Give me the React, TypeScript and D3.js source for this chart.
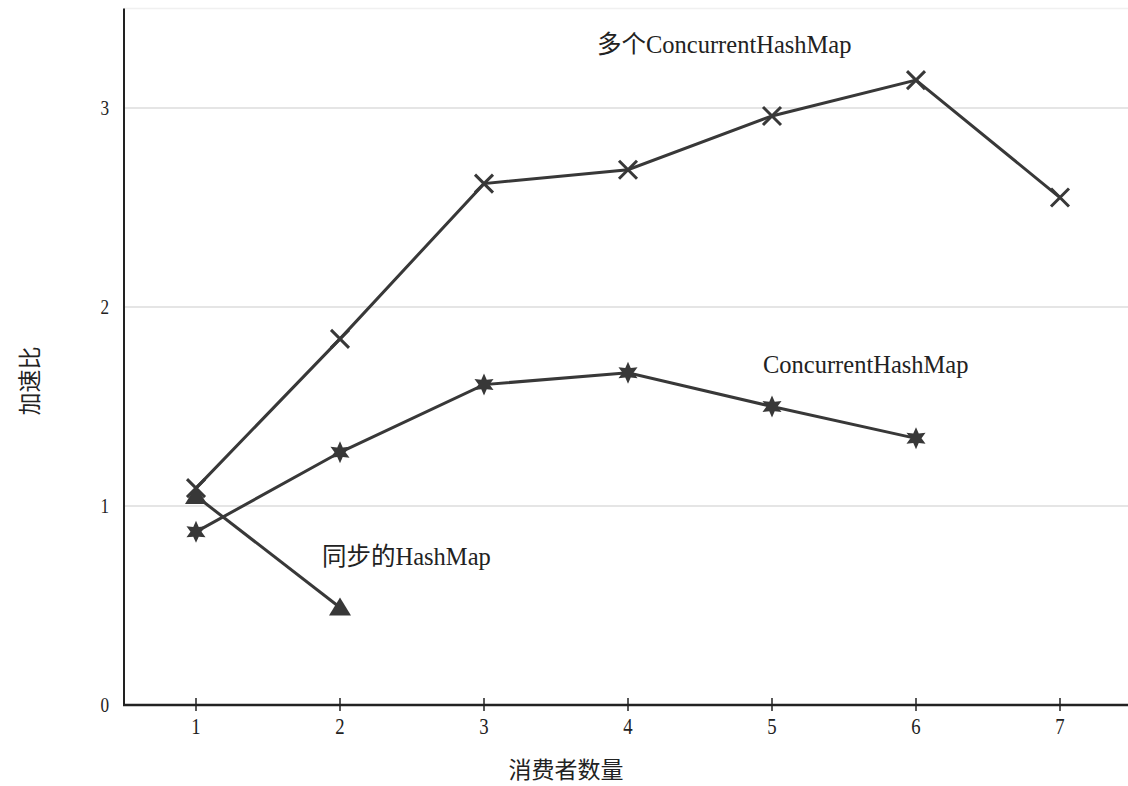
import { useEffect, useRef } from "react";
import * as d3 from "d3";

const consumers = [1, 2, 3, 4, 5, 6, 7];
const multiChm = [1.09, 1.84, 2.62, 2.69, 2.96, 3.14, 2.55];
const singleChm = [0.87, 1.27, 1.61, 1.67, 1.5, 1.34];
const syncHashMap = [1.05, 0.49];
const yTicks = [0, 1, 2, 3];

const W = 1128;
const H = 786;
const FONT = "'Liberation Serif', 'DejaVu Serif', 'Noto Sans CJK SC', serif";
const INK = "#383838";

export default function App() {
  const svgRef = useRef<SVGSVGElement>(null);

  useEffect(() => {
    const svg = d3.select(svgRef.current);
    svg.selectAll("*").remove();

    const x = d3.scaleLinear().domain([0.5, 7.5]).range([124, 1132]);
    const y = d3.scaleLinear().domain([0, 3.5]).range([705, 8.5]);

    // grid
    svg
      .append("g")
      .selectAll("line")
      .data([1, 2, 3, 3.5])
      .join("line")
      .attr("x1", x(0.5))
      .attr("x2", W)
      .attr("y1", (d) => y(d))
      .attr("y2", (d) => y(d))
      .attr("stroke", (d) => (d === 3.5 ? "#f0f0f0" : "#dcdcdc"))
      .attr("stroke-width", 1.5);

    // axes
    svg
      .append("line")
      .attr("x1", x(0.5))
      .attr("x2", x(0.5))
      .attr("y1", y(3.5))
      .attr("y2", y(0))
      .attr("stroke", "#222")
      .attr("stroke-width", 2);
    svg
      .append("line")
      .attr("x1", x(0.5) - 1)
      .attr("x2", W)
      .attr("y1", y(0))
      .attr("y2", y(0))
      .attr("stroke", "#222")
      .attr("stroke-width", 2.5);

    svg
      .append("g")
      .selectAll("line")
      .data(consumers)
      .join("line")
      .attr("x1", (d) => x(d))
      .attr("x2", (d) => x(d))
      .attr("y1", y(0) - 7)
      .attr("y2", y(0) + 6)
      .attr("stroke", "#222")
      .attr("stroke-width", 1.5);

    // tall narrow digits, like the scanned original
    svg
      .append("g")
      .selectAll("text")
      .data(consumers)
      .join("text")
      .attr("transform", (d) => `translate(${x(d)},${y(0) + 29}) scale(0.78,1)`)
      .attr("text-anchor", "middle")
      .attr("font-family", FONT)
      .attr("font-size", 24)
      .attr("fill", "#222")
      .text((d) => String(d));

    svg
      .append("g")
      .selectAll("text")
      .data(yTicks)
      .join("text")
      .attr("transform", (d) => `translate(109,${y(d) + 7}) scale(0.78,1)`)
      .attr("text-anchor", "end")
      .attr("font-family", FONT)
      .attr("font-size", 22)
      .attr("fill", "#222")
      .text((d) => String(d));

    // axis titles
    svg
      .append("text")
      .attr("transform", `translate(38,381) rotate(-90)`)
      .attr("text-anchor", "middle")
      .attr("font-family", FONT)
      .attr("font-size", 23)
      .attr("fill", "#222")
      .text("加速比");
    svg
      .append("text")
      .attr("x", 566)
      .attr("y", 778)
      .attr("text-anchor", "middle")
      .attr("font-family", FONT)
      .attr("font-size", 23)
      .attr("fill", "#222")
      .text("消费者数量");

    const line = d3
      .line<number>()
      .x((_, i) => x(consumers[i]))
      .y((d) => y(d));

    const series = [multiChm, singleChm, syncHashMap];
    svg
      .append("g")
      .selectAll("path")
      .data(series)
      .join("path")
      .attr("d", (d) => line(d))
      .attr("fill", "none")
      .attr("stroke", INK)
      .attr("stroke-width", 3);

    // X markers
    svg
      .append("g")
      .selectAll("path")
      .data(multiChm)
      .join("path")
      .attr("transform", (d, i) => `translate(${x(consumers[i])},${y(d)})`)
      .attr("d", "M-9,-9L9,9M9,-9L-9,9")
      .attr("stroke", INK)
      .attr("stroke-width", 3)
      .attr("fill", "none");

    // six-point star markers
    const sixStar = (() => {
      const pts: string[] = [];
      for (let k = 0; k < 12; k++) {
        const r = k % 2 === 0 ? 11 : 5.5;
        const a = (Math.PI / 6) * k - Math.PI / 2;
        pts.push(`${(r * Math.cos(a)).toFixed(2)},${(r * Math.sin(a)).toFixed(2)}`);
      }
      return "M" + pts.join("L") + "Z";
    })();
    svg
      .append("g")
      .selectAll("path")
      .data(singleChm)
      .join("path")
      .attr("transform", (d, i) => `translate(${x(consumers[i])},${y(d)})`)
      .attr("d", sixStar)
      .attr("fill", INK);

    // triangle markers
    svg
      .append("g")
      .selectAll("path")
      .data(syncHashMap)
      .join("path")
      .attr("transform", (d, i) => `translate(${x(consumers[i])},${y(d)})`)
      .attr("d", "M0,-10L11,8L-11,8Z")
      .attr("fill", INK);

    // series labels
    const labels = [
      { text: "多个ConcurrentHashMap", x: 597, y: 53 },
      { text: "ConcurrentHashMap", x: 763, y: 373 },
      { text: "同步的HashMap", x: 322, y: 565 },
    ];
    svg
      .append("g")
      .selectAll("text")
      .data(labels)
      .join("text")
      .attr("x", (d) => d.x)
      .attr("y", (d) => d.y)
      .attr("font-family", FONT)
      .attr("font-size", 24.5)
      .attr("fill", "#222")
      .text((d) => d.text);
  }, []);

  return (
    <svg
      ref={svgRef}
      width={W}
      height={H}
      style={{ position: "absolute", left: 0, top: 0, background: "#fff" }}
    />
  );
}
